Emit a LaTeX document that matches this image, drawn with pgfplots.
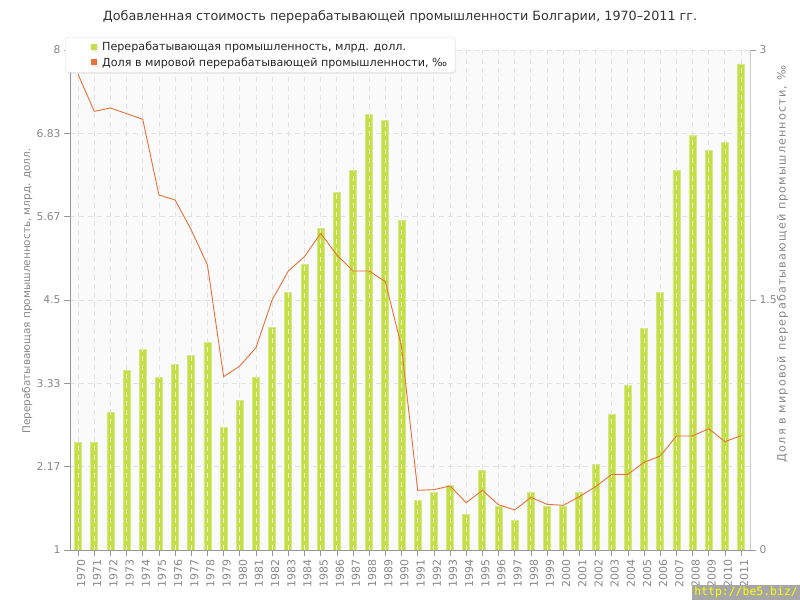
\documentclass[border=0pt]{standalone}
\usepackage{pgfplots}
\pgfplotsset{compat=1.18}
\usepackage{fontspec}
\setmainfont{DejaVu Sans}
\newfontfamily\wmfont{DejaVu Sans Mono}
\newfontfamily\spacedfont[LetterSpace=10]{DejaVu Sans}
\usetikzlibrary{shadows}
\definecolor{barfill}{HTML}{C4DF45}
\definecolor{baredge}{HTML}{D3E98A}
\definecolor{linecol}{HTML}{E8713A}
\definecolor{txtgray}{HTML}{888888}
\definecolor{axgray}{HTML}{999999}
\definecolor{gridgray}{HTML}{E2E2E2}
\definecolor{bgplot}{HTML}{FAFAFA}
\definecolor{wmbg}{HTML}{A6A6A6}
\definecolor{wmtxt}{HTML}{FFFF00}

\pgfplotstableread{
year value
1970 2.51
1971 2.51
1972 2.92
1973 3.51
1974 3.81
1975 3.41
1976 3.60
1977 3.72
1978 3.91
1979 2.71
1980 3.10
1981 3.41
1982 4.11
1983 4.61
1984 5.00
1985 5.50
1986 6.00
1987 6.31
1988 7.10
1989 7.01
1990 5.61
1991 1.70
1992 1.80
1993 1.91
1994 1.50
1995 2.11
1996 1.61
1997 1.41
1998 1.80
1999 1.61
2000 1.61
2001 1.80
2002 2.20
2003 2.90
2004 3.30
2005 4.10
2006 4.61
2007 6.31
2008 6.80
2009 6.60
2010 6.70
2011 7.80
}\bars

\pgfplotstableread{
year share
1970 2.854
1971 2.632
1972 2.652
1973 2.618
1974 2.584
1975 2.130
1976 2.100
1977 1.920
1978 1.710
1979 1.040
1980 1.104
1981 1.214
1982 1.500
1983 1.674
1984 1.760
1985 1.900
1986 1.770
1987 1.674
1988 1.674
1989 1.610
1990 1.220
1991 0.358
1992 0.362
1993 0.384
1994 0.284
1995 0.358
1996 0.272
1997 0.240
1998 0.316
1999 0.274
2000 0.268
2001 0.320
2002 0.380
2003 0.454
2004 0.454
2005 0.526
2006 0.564
2007 0.684
2008 0.684
2009 0.728
2010 0.650
2011 0.686
}\share

\begin{document}
\begin{tikzpicture}
\useasboundingbox (0bp,0bp) rectangle (800bp,600bp);

\begin{axis}[
  at={(70bp,50bp)}, anchor=south west,
  scale only axis, width=680bp, height=500bp,
  xmin=1969.5, xmax=2011.55,
  ymin=1, ymax=8,
  axis x line*=bottom, axis y line*=left,
  axis line style={-, draw=axgray},
  axis background/.style={fill=bgplot},
  xtick={1970,...,2011},
  ytick={1,2.17,3.33,4.5,5.67,6.83,8},
  yticklabels={1,2.17,3.33,4.5,5.67,6.83,8},
  tick align=outside,
  major tick length=6bp,
  tick style={draw=axgray, line width=0.6bp},
  grid=major,
  major grid style={draw=gridgray, dashed, line width=0.8bp, dash pattern=on 5bp off 4bp},
  /pgf/number format/assume math mode=true,
  xticklabel style={rotate=90, anchor=east, yshift=-3bp, font=\fontsize{11}{12}\selectfont, text=txtgray, /pgf/number format/1000 sep={}},
  yticklabel style={font=\fontsize{10.8}{12}\selectfont, text=txtgray},
  ylabel={Перерабатывающая промышленность, млрд. долл.},
  ylabel style={at={(axis description cs:-0.063,0.518)}, anchor=center, rotate=0, font=\fontsize{10.5}{12}\selectfont, text=txtgray},
  clip=true,
]
\addplot[ybar, bar width=7bp, bar shift=0pt, fill=barfill, draw=baredge, line width=0.8bp] table[x=year, y=value] {\bars};
\addplot[ycomb, draw=white, opacity=0.75, line width=0.8bp, dash pattern=on 5bp off 4bp] table[x=year, y=value] {\bars};
\end{axis}

\begin{axis}[
  at={(70bp,50bp)}, anchor=south west,
  scale only axis, width=680bp, height=500bp,
  xmin=1969.5, xmax=2011.55,
  ymin=0, ymax=3,
  axis x line=none, axis y line*=right,
  axis line style={-, draw=gridgray!70!axgray},
  ytick={0,1.5,3},
  yticklabels={0,1.5,3},
  tick align=outside,
  major tick length=6bp,
  tick style={draw=axgray, line width=0.6bp},
  /pgf/number format/assume math mode=true,
  yticklabel style={font=\fontsize{10.8}{12}\selectfont, text=txtgray},
  ylabel={Доля в мировой перерабатывающей промышленности, ‰},
  ylabel style={at={(axis description cs:1.0475,0.572)}, anchor=center, rotate=0, font=\spacedfont\fontsize{11.3}{13}\selectfont, text=txtgray},
  legend style={at={(axis description cs:-0.0074,1.026)}, anchor=north west,
    draw=gray!25, fill=white, rounded corners=3bp, drop shadow={opacity=0.12, shadow xshift=1bp, shadow yshift=-1.5bp},
    font=\fontsize{11.2}{13}\selectfont, text=black!85, inner xsep=6bp, inner ysep=3bp,
    row sep=1bp, cells={anchor=west}},
  legend image code/.code={\path (0bp,0bp) (29bp,0bp); \fill[#1, sharp corners] (20bp,-3bp) rectangle (26bp,3bp);},
]
\addlegendimage{fill=barfill, draw=none}
\addlegendentry{Перерабатывающая промышленность, млрд. долл.}
\addlegendimage{fill=linecol, draw=none}
\addlegendentry{Доля в мировой перерабатывающей промышленности, ‰}
\addplot[draw=linecol, line width=0.9bp, mark=none, forget plot] table[x=year, y=share] {\share};
\end{axis}

\node[font=\fontsize{12.8}{15}\selectfont, text=black!80] at (400bp,583bp) {Добавленная стоимость перерабатывающей промышленности Болгарии, 1970–2011 гг.};
\node[anchor=south east, fill=wmbg, text=wmtxt, inner xsep=2bp, inner ysep=2bp, font=\wmfont\fontsize{11.5}{12}\selectfont] at (800bp,0bp) {http://be5.biz/};
\end{tikzpicture}
\end{document}
